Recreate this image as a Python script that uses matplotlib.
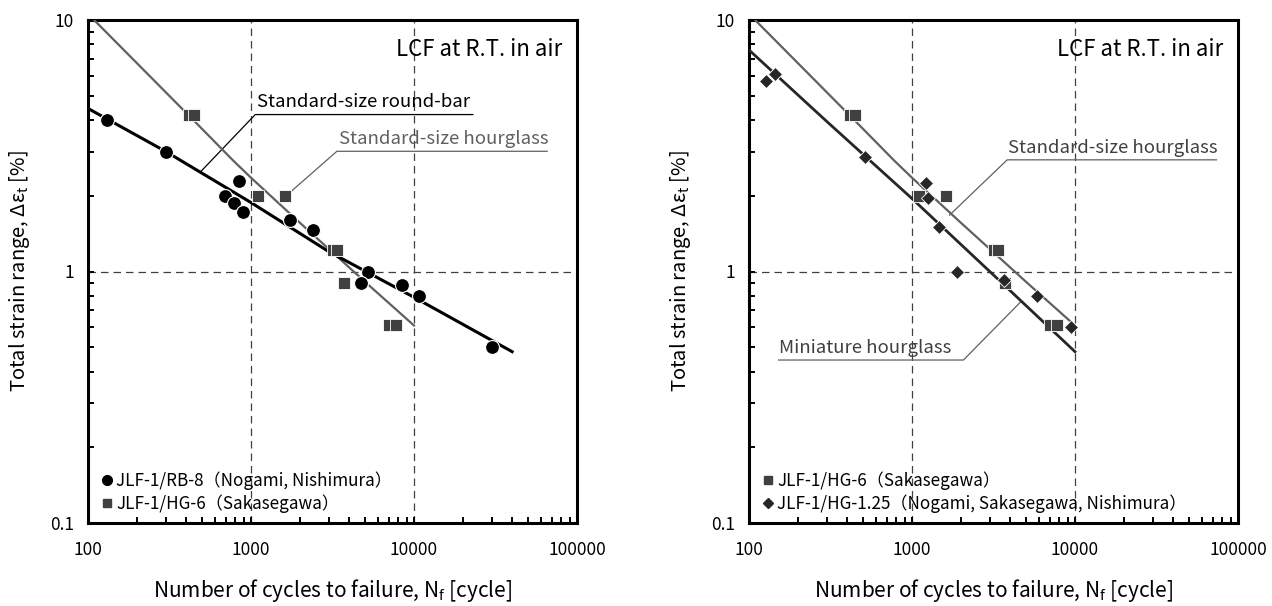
import matplotlib
matplotlib.use("Agg")
import matplotlib.pyplot as plt
from matplotlib.ticker import NullFormatter
from matplotlib.lines import Line2D

plt.rcParams['font.family'] = ['Noto Sans CJK JP', 'DejaVu Sans']
plt.rcParams['mathtext.default'] = 'regular'

# JLF-1/RB-8 round-bar data
rb8_cycles = [130, 300, 850, 690, 790, 890, 1730, 2400, 5250, 4750, 8400, 10700, 30000]
rb8_strain = [4.0, 3.0, 2.28, 2.0, 1.88, 1.72, 1.6, 1.46, 1.0, 0.9, 0.88, 0.8, 0.5]

# JLF-1/HG-6 standard-size hourglass data
hg6_cycles = [415, 450, 1110, 1610, 3180, 3380, 3700, 7000, 7800]
hg6_strain = [4.2, 4.2, 2.0, 2.0, 1.22, 1.22, 0.9, 0.61, 0.61]

# JLF-1/HG-1.25 miniature hourglass data
hg125_cycles = [127, 145, 515, 1220, 1250, 1470, 1880, 3660, 5870, 9500]
hg125_strain = [5.7, 6.1, 2.85, 2.24, 1.96, 1.5, 1.0, 0.925, 0.80, 0.60]

# fitted curves
rb_fit_cycles = [100, 300, 1000, 3000, 10000, 40000]
rb_fit_strain = [4.45, 3.0, 1.88, 1.2, 0.79, 0.48]
hg_fit_cycles = [109, 300, 464, 778, 1000, 2000, 5130, 10000]
hg_fit_strain = [10.0, 5.16, 3.88, 2.76, 2.36, 1.56, 0.897, 0.61]
mini_fit_cycles = [100, 300, 1000, 3000, 10000]
mini_fit_strain = [7.6, 3.95, 1.95, 1.0, 0.48]

x_ticks = [100, 1000, 10000, 100000]
x_tick_labels = ['100', '1000', '10000', '100000']
y_ticks = [0.1, 1, 10]
y_tick_labels = ['0.1', '1', '10']

label_rb8 = 'JLF-1/RB-8（Nogami, Nishimura）'
label_hg6 = 'JLF-1/HG-6（Sakasegawa）'
label_hg125 = 'JLF-1/HG-1.25（Nogami, Sakasegawa, Nishimura）'

BLACK = '#000000'
DARK = '#262626'
GRAY = '#404040'
LGRAY = '#606060'


def setup_axes(ax):
    ax.set_xscale('log')
    ax.set_yscale('log')
    ax.set_xlim(100, 100000)
    ax.set_ylim(0.1, 10)
    ax.set_xticks(x_ticks, x_tick_labels)
    ax.set_yticks(y_ticks, y_tick_labels)
    ax.xaxis.set_minor_formatter(NullFormatter())
    ax.yaxis.set_minor_formatter(NullFormatter())
    ax.tick_params(which='both', direction='in', length=4, width=1.4, labelsize=12.5,
                   top=False, right=False)
    ax.tick_params(axis='x', pad=13)
    ax.tick_params(axis='y', pad=10)
    for s in ax.spines.values():
        s.set_linewidth(2.2)
    ax.grid(True, which='major', ls=(0, (6, 4)), color=GRAY, lw=0.9)
    ax.set_xlabel('Number of cycles to failure, N$_f$ [cycle]', fontsize=15, labelpad=13)
    ax.set_ylabel('Total strain range, Δε$_t$ [%]', fontsize=14.5, labelpad=13)
    ax.text(0.97, 0.942, 'LCF at R.T. in air', transform=ax.transAxes,
            ha='right', va='center', fontsize=16)


def callout(ax, text, tx, ty, x1, x2, px, py, color, line_color):
    # text sitting on an underline, with a leader going to the curve
    ax.text(tx, ty, text, transform=ax.transAxes, ha='left', va='center',
            fontsize=13.4, color=color)
    ax.plot([px, x1, x2], [py, ty - 0.024, ty - 0.024], transform=ax.transAxes,
            color=line_color, lw=0.9, clip_on=False)


fig = plt.figure(figsize=(12.72, 6.06), dpi=100)
ax1 = fig.add_axes([88 / 1272, 83 / 606, 489 / 1272, 503 / 606])
ax2 = fig.add_axes([749 / 1272, 83 / 606, 489 / 1272, 503 / 606])

# left panel
setup_axes(ax1)
ax1.plot(hg_fit_cycles, hg_fit_strain, color=LGRAY, lw=1.6, zorder=3)
ax1.plot(rb_fit_cycles, rb_fit_strain, color=BLACK, lw=2.2, zorder=3)
ax1.plot(rb8_cycles, rb8_strain, 'o', color=BLACK, ms=10, mec='white', mew=0.8, zorder=4)
ax1.plot(hg6_cycles, hg6_strain, 's', color=GRAY, ms=8, mec='white', mew=0.6, zorder=4)
callout(ax1, 'Standard-size round-bar', 0.346, 0.836, 0.342, 0.787, 0.229, 0.697, BLACK, BLACK)
callout(ax1, 'Standard-size hourglass', 0.513, 0.763, 0.509, 0.939, 0.4045, 0.650, LGRAY, LGRAY)
h1 = [Line2D([], [], ls='', marker='o', color=BLACK, ms=7),
      Line2D([], [], ls='', marker='s', color=GRAY, ms=6)]
ax1.legend(h1, [label_rb8, label_hg6], loc='lower left', bbox_to_anchor=(0.026, 0.02),
           frameon=False, fontsize=12.3, handlelength=0.7, handletextpad=0.2,
           labelspacing=0.25, borderpad=0, borderaxespad=0)

# right panel
setup_axes(ax2)
ax2.plot(hg_fit_cycles, hg_fit_strain, color=LGRAY, lw=1.6, zorder=3)
ax2.plot(mini_fit_cycles, mini_fit_strain, color=DARK, lw=2.0, zorder=3)
ax2.plot(hg6_cycles, hg6_strain, 's', color=GRAY, ms=8, mec='white', mew=0.6, zorder=4)
ax2.plot(hg125_cycles, hg125_strain, 'D', color=DARK, ms=7, mec='white', mew=0.6, zorder=4)
callout(ax2, 'Standard-size hourglass', 0.530, 0.746, 0.528, 0.956, 0.410, 0.612, GRAY, LGRAY)
callout(ax2, 'Miniature hourglass', 0.062, 0.348, 0.4385, 0.0605, 0.555, 0.439, GRAY, LGRAY)
h2 = [Line2D([], [], ls='', marker='s', color=GRAY, ms=6),
      Line2D([], [], ls='', marker='D', color=DARK, ms=5)]
ax2.legend(h2, [label_hg6, label_hg125], loc='lower left', bbox_to_anchor=(0.026, 0.02),
           frameon=False, fontsize=12.3, handlelength=0.7, handletextpad=0.2,
           labelspacing=0.25, borderpad=0, borderaxespad=0)

plt.savefig('out.png', dpi=100)
plt.close()
